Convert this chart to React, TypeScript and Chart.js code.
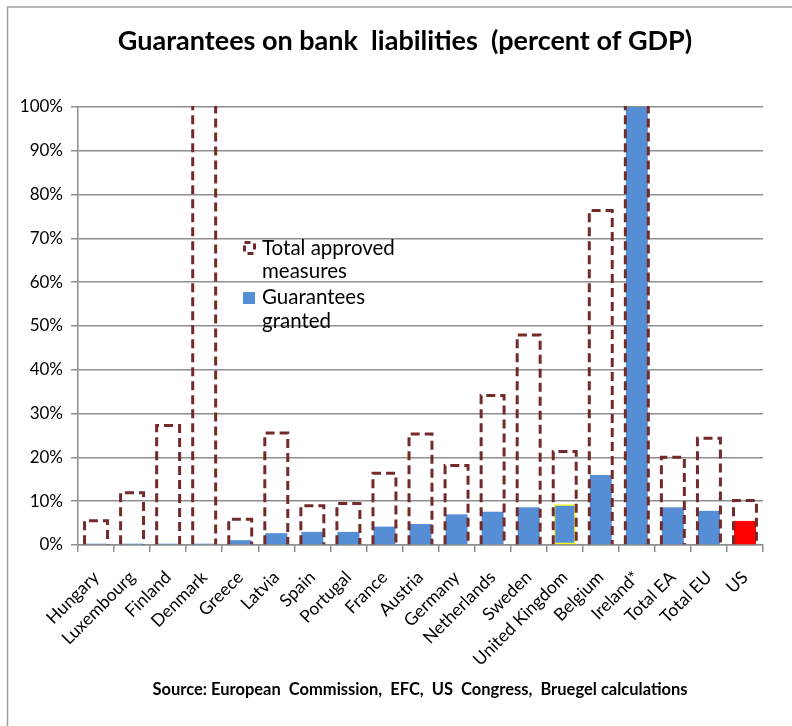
import React, { useEffect, useRef } from "react";
import { Chart, registerables } from "chart.js";

Chart.register(...registerables);

const categories = [
  "Hungary", "Luxembourg", "Finland", "Denmark", "Greece", "Latvia", "Spain",
  "Portugal", "France", "Austria", "Germany", "Netherlands", "Sweden",
  "United Kingdom", "Belgium", "Ireland*", "Total EA", "Total EU", "US",
];

// Total approved measures (% of GDP); Denmark & Ireland exceed the 100% axis
const approved = [5.9, 12.3, 27.6, 120, 6.2, 25.9, 9.3, 9.8, 16.7, 25.7, 18.5, 34.5, 48.3, 21.7, 76.7, 120, 20.4, 24.7, 10.5];
// Guarantees granted (% of GDP); Ireland exceeds the 100% axis
const granted = [0.3, 0.3, 0.3, 0.3, 1.1, 2.7, 3.0, 3.0, 4.2, 4.8, 7.0, 7.6, 8.6, 9.3, 16.0, 120, 8.6, 7.8, 5.5];

const yTicks = [0, 10, 20, 30, 40, 50, 60, 70, 80, 90, 100];

const TITLE = "Guarantees on bank  liabilities  (percent of GDP)";
const SOURCE = "Source: European  Commission,  EFC,  US  Congress,  Bruegel calculations";
const LEGEND_APPROVED = ["Total approved", "measures"];
const LEGEND_GRANTED = ["Guarantees", "granted"];

const DASH_COLOR = "#722A2A";
const BLUE = "#558ED5";
const RED = "#FF0000";
const GRID = "#8E8E8E";
const FONT = "Lato";

const dashedBarsPlugin = {
  id: "dashedBars",
  afterDatasetsDraw(chart: any) {
    const meta = chart.getDatasetMeta(0);
    const { ctx, chartArea } = chart;
    ctx.save();
    ctx.beginPath();
    ctx.rect(chartArea.left, chartArea.top - 1, chartArea.right - chartArea.left, chartArea.bottom - chartArea.top + 3);
    ctx.clip();
    ctx.strokeStyle = DASH_COLOR;
    ctx.lineWidth = 3;
    ctx.setLineDash([9, 5]);
    meta.data.forEach((bar: any) => {
      const p = bar.getProps(["x", "y", "base", "width"], true);
      const l = p.x - p.width / 2 + 1.5;
      const r = p.x + p.width / 2 - 1.5;
      const top = p.y + 1.5;
      const base = p.base;
      ctx.beginPath();
      ctx.moveTo(l, base);
      ctx.lineTo(l, top);
      ctx.lineTo(r, top);
      ctx.lineTo(r, base);
      ctx.stroke();
    });
    ctx.restore();
  },
};

const decorPlugin = {
  id: "decor",
  beforeDraw(chart: any) {
    const { ctx, width, height } = chart;
    ctx.save();
    ctx.fillStyle = "#ffffff";
    ctx.fillRect(0, 0, width, height);
    ctx.strokeStyle = "#A0A0A0";
    ctx.lineWidth = 1.5;
    ctx.beginPath();
    ctx.moveTo(7.5, height + 2);
    ctx.lineTo(7.5, 7);
    ctx.lineTo(width + 2, 7);
    ctx.stroke();
    ctx.restore();
  },
  afterDraw(chart: any) {
    const { ctx } = chart;
    ctx.save();
    ctx.fillStyle = "#000";
    ctx.textAlign = "center";
    ctx.textBaseline = "alphabetic";
    ctx.font = `bold 27px ${FONT}`;
    ctx.fillText(TITLE, 405, 50);
    ctx.font = `bold 16.5px ${FONT}`;
    ctx.fillText(SOURCE, 420, 695);

    // legend
    ctx.textAlign = "left";
    ctx.font = `20.5px ${FONT}`;
    ctx.fillText(LEGEND_APPROVED[0], 262, 255);
    ctx.fillText(LEGEND_APPROVED[1], 262, 278);
    ctx.fillText(LEGEND_GRANTED[0], 262, 304);
    ctx.fillText(LEGEND_GRANTED[1], 262, 328);
    ctx.strokeStyle = DASH_COLOR;
    ctx.lineWidth = 3;
    ctx.setLineDash([6, 5]);
    ctx.strokeRect(244.5, 242.5, 10, 11);
    ctx.setLineDash([]);
    ctx.fillStyle = BLUE;
    ctx.fillRect(243, 292, 12, 12);
    ctx.restore();
  },
};

export default function App() {
  const ref = useRef<HTMLCanvasElement>(null);
  useEffect(() => {
    const grantedColors = categories.map((c) => (c === "US" ? RED : BLUE));
    const grantedBorderColors = categories.map((c) => (c === "United Kingdom" ? "#FFFF00" : "rgba(0,0,0,0)"));
    const grantedBorderWidths = categories.map((c) => (c === "United Kingdom" ? 1.5 : 0));
    const chart = new Chart(ref.current!, {
      type: "bar",
      data: {
        labels: categories,
        datasets: [
          {
            label: "Total approved measures",
            data: approved,
            backgroundColor: "rgba(0,0,0,0)",
            borderWidth: 0,
            grouped: false,
            categoryPercentage: 1,
            barPercentage: 0.72,
            order: 0,
          },
          {
            label: "Guarantees granted",
            data: granted,
            backgroundColor: grantedColors,
            borderColor: grantedBorderColors,
            borderWidth: grantedBorderWidths,
            borderSkipped: false,
            grouped: false,
            categoryPercentage: 1,
            barPercentage: 0.61,
            order: 1,
            clip: 0,
          } as any,
        ],
      },
      options: {
        animation: false,
        responsive: true,
        maintainAspectRatio: false,
        devicePixelRatio: 1,
        layout: { padding: { top: 107, left: 0, right: 29, bottom: 0 } },
        plugins: {
          legend: { display: false },
          title: { display: false },
          tooltip: { enabled: false },
        },
        scales: {
          x: {
            afterFit(scale: any) {
              scale.height = 181;
            },
            grid: {
              display: true,
              drawOnChartArea: false,
              drawTicks: true,
              tickLength: 7,
              offset: true,
              color: GRID,
              lineWidth: 1.5,
            },
            border: { display: true, color: GRID, width: 1.5 },
            ticks: {
              autoSkip: false,
              minRotation: 45,
              maxRotation: 45,
              padding: 15,
              color: "#000",
              font: { family: FONT, size: 17.5 },
            },
          },
          y: {
            min: 0,
            max: 100,
            afterFit(scale: any) {
              scale.width = 78;
            },
            afterBuildTicks(scale: any) {
              scale.ticks = yTicks.map((v) => ({ value: v }));
            },
            grid: {
              color: GRID,
              lineWidth: 1.5,
              drawTicks: true,
              tickLength: 7,
            },
            border: { display: true, color: GRID, width: 1.5 },
            ticks: {
              padding: 8,
              color: "#000",
              font: { family: FONT, size: 17 },
              callback: (v: any) => `${v}%`,
            },
          },
        },
      },
      plugins: [dashedBarsPlugin, decorPlugin],
    });
    return () => chart.destroy();
  }, []);
  return (
    <div style={{ position: "absolute", left: 0, top: 0, width: 792, height: 726 }}>
      <canvas ref={ref} />
    </div>
  );
}
